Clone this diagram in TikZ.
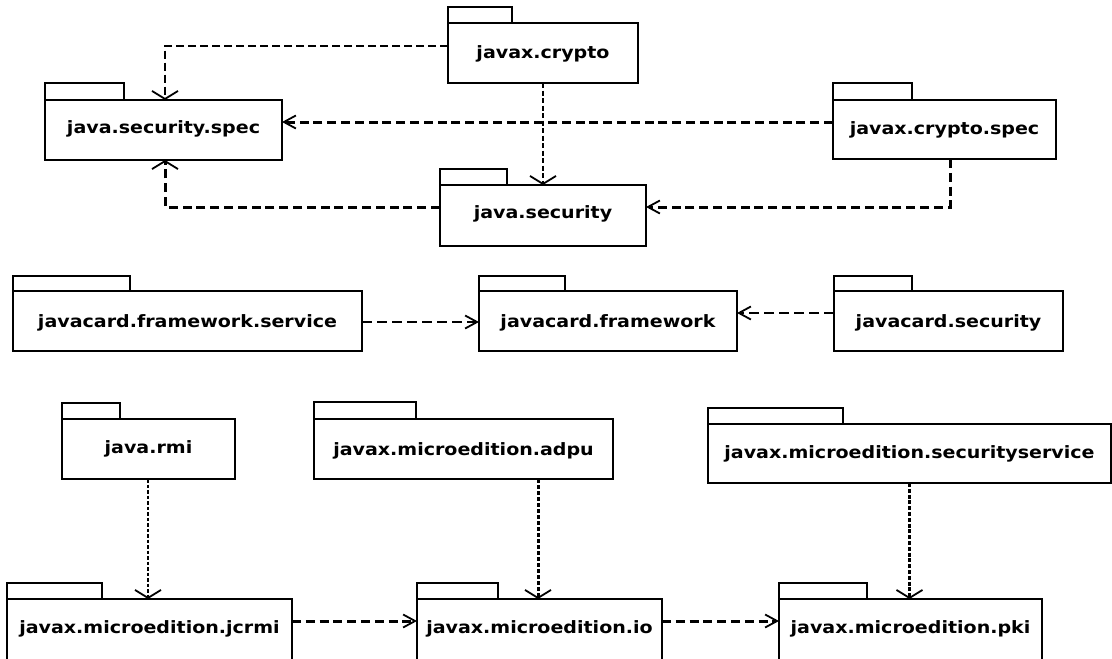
\documentclass[tikz,border=0pt]{standalone}
\usepackage{fontspec}
\usepackage{graphicx}
\setmainfont{DejaVu Sans}
\usetikzlibrary{arrows.meta,calc}
\tikzset{
  pkgbody/.style={draw=black, line width=1.9pt, inner sep=0pt, outer sep=0pt, fill=white},
  pkgtab/.style={draw=black, line width=1.9pt},
  pkgtext/.style={font=\fontsize{17}{20}\selectfont\bfseries, inner sep=0pt, anchor=base},
  vtip/.style={-{Straight Barb[length=8pt,width=26pt,line width=1.8pt]}},
  htip/.style={-{Straight Barb[length=12pt,width=13pt,line width=1.8pt]}},
  thickdep/.style={line width=3pt, dash pattern=on 9pt off 4.8pt},
  thindep/.style={line width=2pt, dash pattern=on 8pt off 4pt},
  densedep/.style={line width=2.2pt, dash pattern=on 5pt off 2.5pt},
  middep/.style={line width=1.6pt, dash pattern=on 10pt off 5pt},
  dotdep/.style={line width=2.2pt, dash pattern=on 3.5pt off 2pt},
  dotthick/.style={line width=3pt, dash pattern=on 4pt off 2pt},
  dotheavy/.style={line width=3.3pt, dash pattern=on 4pt off 1.8pt},
}
% name, x1, y1, x2, y2, tab right, tab top, baseline, text
\newcommand\umlpkg[9]{%
  \node[pkgbody, minimum width={(#4-#2)*1pt}, minimum height={(#5-#3)*1pt}, anchor=north west] (#1) at (#2,#3) {};
  \draw[pkgtab] (#1.north west) rectangle (#6,#7);
  \node[pkgtext] (#1-t) at (#1.center |- 0,#8) {\scalebox{1.12}[1]{#9}};
}
\begin{document}
\begin{tikzpicture}[x=1pt,y=-1pt]
\useasboundingbox (0,0) rectangle (1112,659);
\clip (0,0) rectangle (1112,659);
\fill[white] (0,0) rectangle (1112,659);

% top group
\umlpkg{crypto}{448}{23}{638}{83}{512}{7}{58}{javax.crypto}
\umlpkg{spec}{45}{100}{282}{160}{124}{83}{133}{java.security.spec}
\umlpkg{sec}{440}{185}{646}{246}{507}{169}{218}{java.security}
\umlpkg{cspec}{833}{100}{1056}{159}{912}{83}{134}{javax.crypto.spec}

% middle group
\umlpkg{service}{13}{291}{362}{351}{130}{276}{327}{javacard.framework.service}
\umlpkg{fw}{479}{291}{737}{351}{565}{276}{327}{javacard.framework}
\umlpkg{jcsec}{834}{291}{1063}{351}{912}{276}{327}{javacard.security}

% bottom group
\umlpkg{rmi}{62}{419}{235}{479}{120}{403}{453}{java.rmi}
\umlpkg{adpu}{314}{419}{613}{479}{416}{402}{455}{javax.microedition.adpu}
\umlpkg{ssvc}{708}{424}{1111}{483}{843}{408}{458}{javax.microedition.securityservice}
\umlpkg{jcrmi}{7}{599}{292}{666}{102}{583}{633}{javax.microedition.jcrmi}
\umlpkg{io}{417}{599}{662}{666}{498}{583}{633}{javax.microedition.io}
\umlpkg{pki}{779}{599}{1042}{666}{867}{583}{633}{javax.microedition.pki}

% connectors, top group
\draw[thindep, vtip] ([yshift=7.5pt]crypto.west) -| ([xshift=1.5pt]spec.north);
\draw[densedep, vtip] (crypto.south) -- (crypto.south |- sec.north);
\draw[thickdep, htip] ([yshift=7.5pt]cspec.west) -- ([yshift=7.5pt]cspec.west -| spec.east);
\draw[thickdep, htip] ([xshift=5.5pt]cspec.south) |- ([yshift=8.5pt]sec.east);
\draw[thickdep, vtip] ([yshift=8.5pt]sec.west) -| ([xshift=1.5pt]spec.south);

% connectors, middle group
\draw[middep, htip] ([yshift=-1pt]service.east) -- ([yshift=-1pt]fw.west);
\draw[middep, htip] ([yshift=8pt]jcsec.west) -- ([yshift=8pt]fw.east);

% connectors, bottom group
\draw[dotdep, vtip] ([xshift=-0.5pt]rmi.south) -- ([xshift=-0.5pt]rmi.south |- jcrmi.north);
\draw[dotthick, vtip] ([xshift=-1.5pt]io.north |- adpu.south) -- ([xshift=-1.5pt]io.north);
\draw[dotheavy, vtip] (ssvc.south) -- (ssvc.south |- pki.north);
\draw[thickdep, htip] ([yshift=11.5pt]jcrmi.east) -- ([yshift=11.5pt]io.west);
\draw[thickdep, htip] ([yshift=11.5pt]io.east) -- ([yshift=11.5pt]pki.west);
\end{tikzpicture}
\end{document}
